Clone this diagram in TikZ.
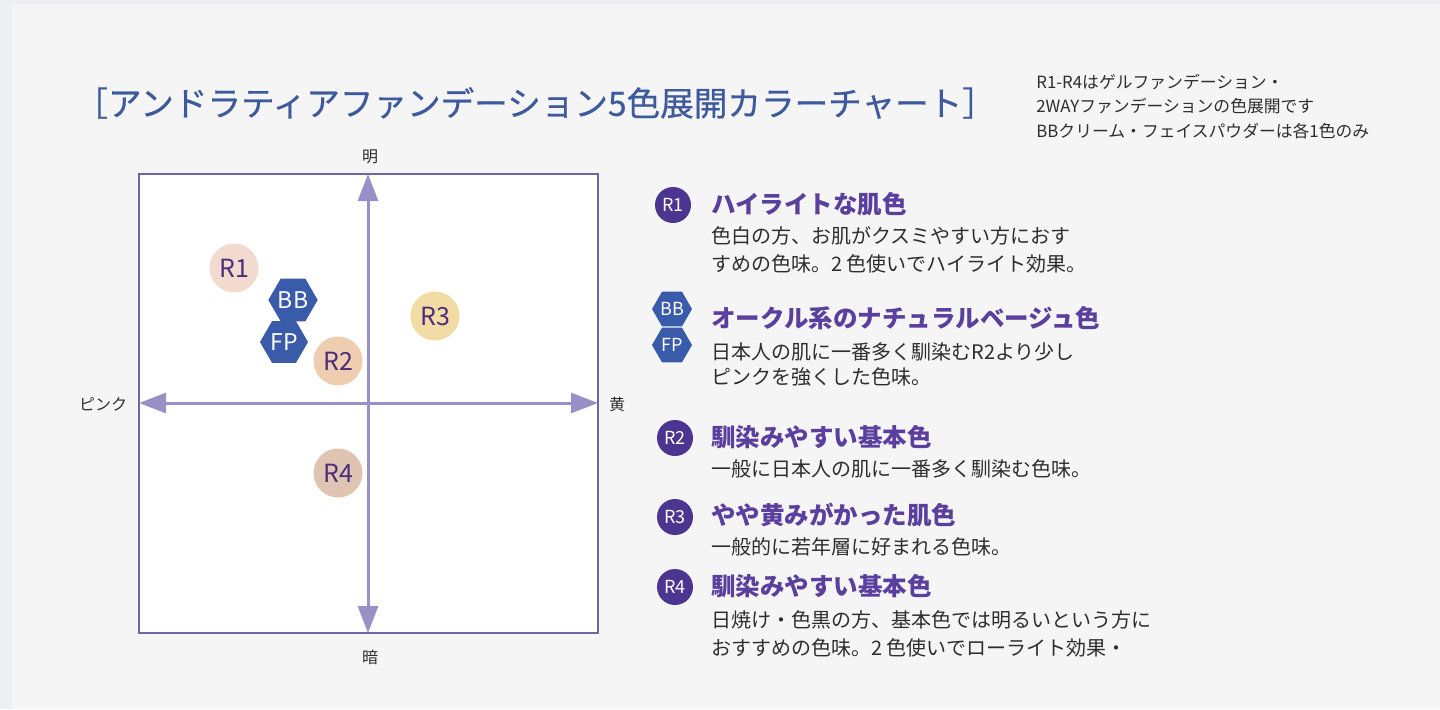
\documentclass[tikz,border=0pt]{standalone}
\usepackage{fontspec}
\setmainfont{Noto Sans CJK JP}
\newfontfamily\titlefont[FakeBold=0.6]{Noto Sans CJK JP}
\usetikzlibrary{arrows.meta,shapes.geometric}
\definecolor{pagebg}{HTML}{F5F5F5}
\definecolor{edgebg}{HTML}{EDEFF2}
\definecolor{titleblue}{HTML}{3D5A9C}
\definecolor{headpurple}{HTML}{5A3F9E}
\definecolor{badge}{HTML}{4B3591}
\definecolor{hexblue}{HTML}{3A5BA9}
\definecolor{axis}{HTML}{9A90C8}
\definecolor{boxline}{HTML}{6F64A8}
\definecolor{bodytext}{HTML}{2E2E2E}
\definecolor{incircle}{HTML}{4A2D7A}
\definecolor{cR1}{HTML}{F3DACE}
\definecolor{cR2}{HTML}{EFCDB1}
\definecolor{cR3}{HTML}{F3DCA4}
\definecolor{cR4}{HTML}{DFC4B2}
\begin{document}
\begin{tikzpicture}[x=0.5pt,y=-0.5pt,
  body/.style={font=\fontsize{10}{12}\selectfont, text=bodytext, anchor=west, inner sep=0pt},
  head/.style={font=\fontsize{12.25}{14}\bfseries\selectfont, text=headpurple, anchor=west, inner sep=0pt},
  note/.style={font=\fontsize{8.4}{10}\selectfont, text=bodytext, anchor=west, inner sep=0pt},
  axlabel/.style={font=\fontsize{8}{10}\selectfont, text=bodytext, inner sep=0pt},
  dot/.style={circle, minimum size=24.5pt, inner sep=0pt, font=\fontsize{12.5}{14}\selectfont, text=incircle},
  hexa/.style={regular polygon, regular polygon sides=6, minimum size=24pt, inner sep=0pt, fill=hexblue, text=white, font=\fontsize{11.5}{13}\selectfont},
  badgedot/.style={circle, minimum size=18pt, inner sep=0pt, fill=badge, text=white, font=\fontsize{9}{10}\selectfont},
  badgehex/.style={regular polygon, regular polygon sides=6, minimum size=20pt, inner sep=0pt, fill=hexblue, text=white, font=\fontsize{9}{10}\selectfont},
  axarrow/.style={draw=axis, line width=1.5pt, {Triangle[length=13.5pt,width=10pt]}-{Triangle[length=13.5pt,width=10pt]}}
]
\useasboundingbox (0,0) rectangle (1440,709);
\fill[edgebg] (0,0) rectangle (1440,709);
\fill[pagebg] (12,5) rectangle (1440,709);

% title
\node[anchor=west, inner sep=0pt, font=\titlefont\fontsize{16.8}{18}\selectfont, text=titleblue] (title) at (74,103) {［アンドラティアファンデーション5色展開カラーチャート］};

% note
\node[note] (n1) at (1036,82) {R1-R4はゲルファンデーション・};
\node[note] (n2) at (1036,106) {2WAYファンデーションの色展開です};
\node[note] (n3) at (1036,131) {BBクリーム・フェイスパウダーは各1色のみ};

% chart
\draw[boxline, line width=0.9pt, fill=white] (139,174) rectangle (598,633);
\coordinate (top) at (368,174);
\coordinate (bot) at (368,633);
\coordinate (lft) at (139,403);
\coordinate (rgt) at (598,403);
\draw[axarrow] (bot) -- (top);
\draw[axarrow] (lft) -- (rgt);
\node[axlabel] (lbright) at (370,157) {明};
\node[axlabel] (ldark) at (370,657) {暗};
\node[axlabel] (lpink) at (103,404) {ピンク};
\node[axlabel] (lyel) at (617,404) {黄};

\node[dot, fill=cR1] (R1) at (234,268) {R1};
\node[dot, fill=cR3] (R3) at (435,316) {R3};
\node[dot, fill=cR2] (R2) at (338,361) {R2};
\node[dot, fill=cR4] (R4) at (338,473) {R4};
\node[hexa] (BB) at (293,300) {BB};
\node[hexa] (FP) at (284,342) {FP};

% legend
\node[badgedot] (b1) at (673,205) {R1};
\node[head] (h1) at (711,204) {ハイライトな肌色};
\node[body] (t1a) at (711,236) {色白の方、お肌がクスミやすい方におす};
\node[body] (t1b) at (711,264) {すめの色味。2 色使いでハイライト効果。};

\node[badgehex] (bBB) at (672,309) {BB};
\node[badgehex] (bFP) at (672,345) {FP};
\node[head] (h2) at (711,318) {オークル系のナチュラルベージュ色};
\node[body] (t2a) at (711,352) {日本人の肌に一番多く馴染むR2より少し};
\node[body] (t2b) at (711,377) {ピンクを強くした色味。};

\node[badgedot] (b2) at (675,438) {R2};
\node[head] (h3) at (711,437) {馴染みやすい基本色};
\node[body] (t3a) at (711,469) {一般に日本人の肌に一番多く馴染む色味。};

\node[badgedot] (b3) at (675,517) {R3};
\node[head] (h4) at (711,515) {やや黄みがかった肌色};
\node[body] (t4a) at (711,547) {一般的に若年層に好まれる色味。};

\node[badgedot] (b4) at (675,587) {R4};
\node[head] (h5) at (711,586) {馴染みやすい基本色};
\node[body] (t5a) at (711,620) {日焼け・色黒の方、基本色では明るいという方に};
\node[body] (t5b) at (711,648) {おすすめの色味。2 色使いでローライト効果・};
\end{tikzpicture}
\end{document}
